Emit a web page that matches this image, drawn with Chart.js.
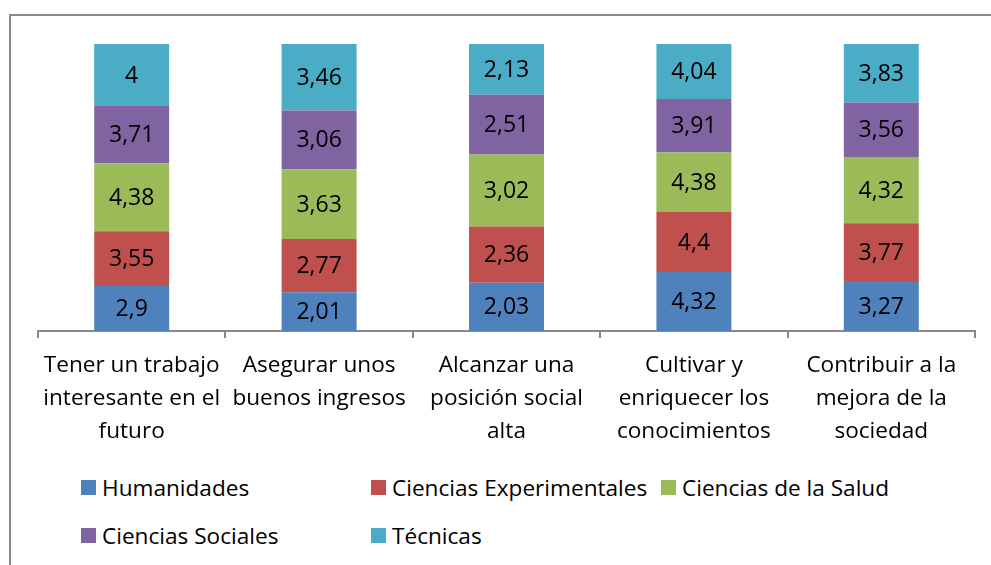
<!DOCTYPE html>
<html>
<head>
<meta charset="utf-8">
<script src="https://cdn.jsdelivr.net/npm/chart.js@4.4.0/dist/chart.umd.min.js"></script>
<style>
  html, body { margin: 0; padding: 0; background: #fff; }
  body { width: 991px; height: 565px; position: relative; overflow: hidden; font-family: "Open Sans", sans-serif; }
  #frame { position: absolute; left: 9px; top: 14px; width: 1000px; height: 600px; border-left: 2px solid #8a8a8a; border-top: 2px solid #8a8a8a; }
  #wrap { position: absolute; left: 0; top: 0; width: 991px; height: 450px; }
  .item { position: absolute; display: flex; align-items: center; height: 24px; font-size: 22.6px; color: #000; white-space: nowrap; }
  .box { width: 15px; height: 15px; margin-right: 6px; }
</style>
</head>
<body>
<div id="frame"></div>
<div id="wrap"><canvas id="chart"></canvas></div>
<div id="legend"></div>
<script>
// categories, one array of lines per bar
const categories = [
  ['Tener un trabajo', 'interesante en el', 'futuro'],
  ['Asegurar unos', 'buenos ingresos'],
  ['Alcanzar una', 'posición social', 'alta'],
  ['Cultivar y', 'enriquecer los', 'conocimientos'],
  ['Contribuir a la', 'mejora de la', 'sociedad']
];

const seriesNames = ['Humanidades', 'Ciencias Experimentales', 'Ciencias de la Salud', 'Ciencias Sociales', 'Técnicas'];
const humanidades = [2.9, 2.01, 2.03, 4.32, 3.27];
const experimentales = [3.55, 2.77, 2.36, 4.4, 3.77];
const salud = [4.38, 3.63, 3.02, 4.38, 4.32];
const sociales = [3.71, 3.06, 2.51, 3.91, 3.56];
const tecnicas = [4, 3.46, 2.13, 4.04, 3.83];
const colors = ['#4F81BD', '#C0504D', '#9BBB59', '#8064A2', '#4BACC6'];

const series = [humanidades, experimentales, salud, sociales, tecnicas];
// 100% stacked: each bar is scaled to its own total
const totals = categories.map((c, j) => series.reduce((s, arr) => s + arr[j], 0));

const FONT = '"Open Sans", sans-serif';

// draws the raw value in the middle of each segment
const valueLabels = {
  id: 'valueLabels',
  afterDatasetsDraw(chart) {
    const ctx = chart.ctx;
    ctx.save();
    ctx.font = '23px ' + FONT;
    ctx.fillStyle = '#000';
    ctx.textAlign = 'center';
    ctx.textBaseline = 'middle';
    chart.data.datasets.forEach((ds, i) => {
      chart.getDatasetMeta(i).data.forEach((bar, j) => {
        const p = bar.getCenterPoint();
        ctx.fillText(String(series[i][j]).replace('.', ','), p.x, p.y + 1);
      });
    });
    ctx.restore();
  }
};

const chart = new Chart(document.getElementById('chart'), {
  type: 'bar',
  data: {
    labels: categories,
    datasets: series.map((arr, i) => ({
      label: seriesNames[i],
      data: arr.map((v, j) => v / totals[j] * 100),
      backgroundColor: colors[i],
      borderWidth: 0,
      categoryPercentage: 1,
      barPercentage: 0.4
    }))
  },
  options: {
    responsive: true,
    maintainAspectRatio: false,
    animation: false,
    layout: { padding: { left: 38, right: 16, top: 44, bottom: 0 } },
    plugins: {
      legend: { display: false },
      tooltip: { enabled: false }
    },
    scales: {
      x: {
        stacked: true,
        afterFit: (s) => { s.height = 119; },
        border: { display: true, color: '#8a8a8a', width: 2 },
        grid: { drawOnChartArea: false, drawTicks: true, tickLength: 7, color: '#8a8a8a', lineWidth: 2, offset: true },
        ticks: {
          color: '#000',
          font: { family: FONT, size: 22.6, lineHeight: '33px' },
          padding: 11,
          maxRotation: 0,
          autoSkip: false
        }
      },
      y: {
        stacked: true,
        display: false,
        min: 0,
        max: 100
      }
    }
  },
  plugins: [valueLabels]
});

// legend laid out in columns like the original
const legendPos = [[81, 475], [371, 475], [661, 475], [81, 523], [371, 523]];
const legend = document.getElementById('legend');
chart.data.datasets.forEach((ds, i) => {
  const item = document.createElement('div');
  item.className = 'item';
  item.style.left = legendPos[i][0] + 'px';
  item.style.top = legendPos[i][1] + 'px';
  item.innerHTML = '<span class="box" style="background:' + ds.backgroundColor + '"></span><span>' + ds.label + '</span>';
  legend.appendChild(item);
});
</script>
</body>
</html>
